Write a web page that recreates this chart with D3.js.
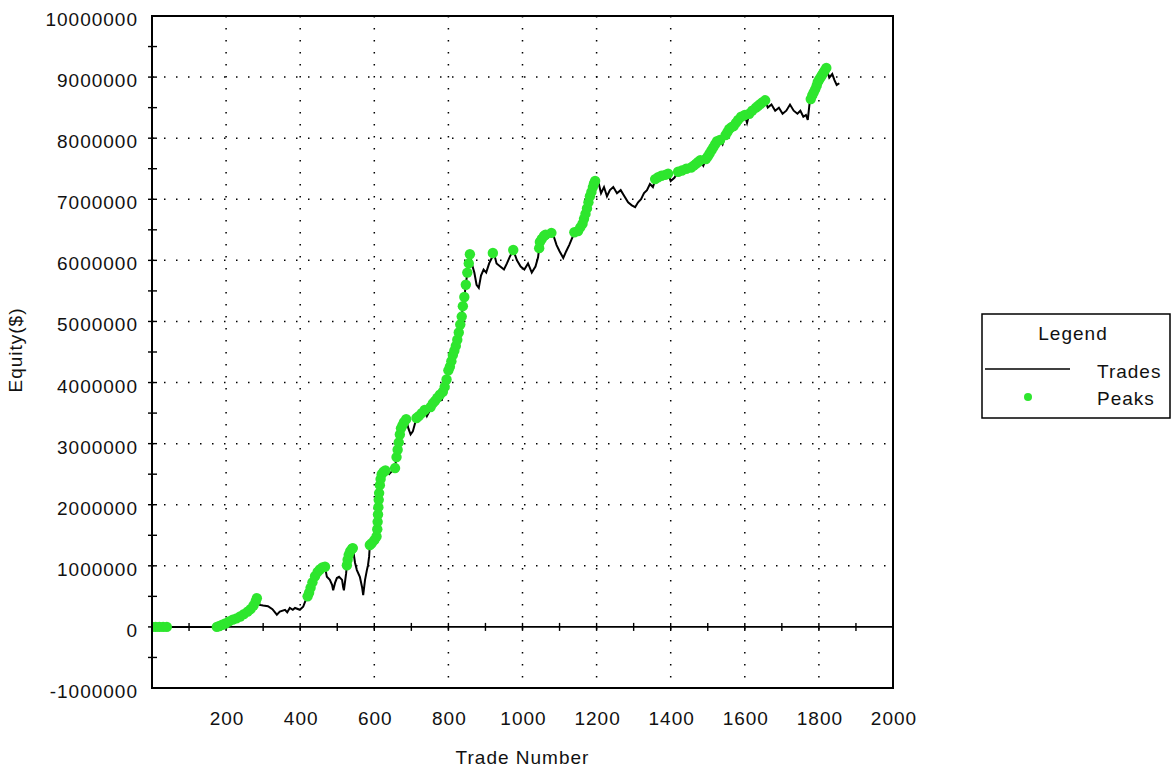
<!DOCTYPE html>
<html>
<head>
<meta charset="utf-8">
<script src="https://cdn.jsdelivr.net/npm/d3@7"></script>
<style>
  body { margin: 0; background: #fff; }
  text { font-family: "Liberation Sans", Arial, sans-serif; fill: #111; }
</style>
</head>
<body>
<div id="my_dataviz"></div>
<script>
// equity curve: [trade number, equity in $1000]
var trades = [
  [0,0],[45,0],[170,0],[185,30],[200,60],[215,110],[230,150],[245,200],[260,260],[272,330],[283,470],
  [291,360],[300,350],[313,340],[325,290],[337,200],[345,250],[359,280],[365,240],[372,310],[380,280],[386,310],[399,280],[408,330],[413,410],
  [418,470],[426,600],[435,770],[445,880],[459,970],[467,980],
  [472,820],[480,770],[486,690],[489,600],[494,720],[499,800],[505,820],[513,770],[516,650],[518,600],[524,880],
  [526,1010],[529,1150],[537,1260],[542,1290],
  [548,1050],[553,930],[561,820],[567,650],[570,520],[575,770],[580,930],[583,1010],[586,1150],
  [588,1340],[596,1390],[607,1500],[609,1720],[611,1960],[613,2190],[616,2400],[622,2530],[630,2560],[640,2500],[648,2550],[656,2600],
  [660,2800],[665,3000],[672,3250],[680,3350],[686,3400],[692,3250],[698,3150],[704,3200],[712,3380],[720,3450],[728,3500],[736,3550],
  [742,3450],[748,3520],[755,3650],[764,3700],[770,3750],[777,3800],[782,3700],[788,3900],[795,4050],[800,4200],[806,4300],[812,4450],
  [818,4550],[824,4700],[830,4900],[835,5050],[839,5250],[843,5400],[847,5600],[851,5800],[855,5950],[858,6100],
  [863,5950],[870,5800],[876,5600],[882,5550],[888,5750],[895,5850],[902,5800],[910,5950],[918,6050],[922,6140],[930,5950],[940,5900],
  [950,5850],[958,5950],[965,6050],[975,6170],[985,6000],[995,5900],[1005,5850],[1015,5950],[1025,5800],[1035,5900],[1042,6050],
  [1047,6300],[1055,6380],[1062,6420],[1070,6380],[1078,6450],[1085,6380],
  [1092,6250],[1100,6150],[1110,6040],[1118,6150],[1126,6250],[1133,6350],[1140,6450],[1150,6480],[1158,6550],[1165,6650],[1172,6800],
  [1180,7000],[1188,7150],[1196,7300],[1205,7280],
  [1212,7100],[1220,7200],[1228,7050],[1236,7150],[1245,7200],[1255,7100],[1265,7150],[1275,7050],[1285,6950],[1295,6900],[1304,6870],
  [1312,6950],[1320,7000],[1328,7100],[1336,7150],[1344,7250],[1352,7200],[1360,7350],[1372,7380],[1385,7400],[1393,7420],[1400,7300],
  [1410,7350],[1420,7450],[1430,7470],[1442,7500],[1455,7520],[1468,7580],[1480,7640],[1488,7550],[1495,7650],[1505,7750],[1515,7850],
  [1525,7950],[1533,7970],[1540,7900],[1548,8050],[1558,8150],[1570,8200],[1582,8300],[1590,8350],[1600,8380],[1606,8250],[1612,8400],
  [1620,8450],[1630,8500],[1642,8560],[1655,8620],
  [1662,8500],[1672,8550],[1682,8450],[1692,8500],[1702,8400],[1712,8450],[1722,8550],[1732,8450],[1742,8400],[1750,8450],[1758,8350],
  [1765,8380],[1770,8300],
  [1775,8580],[1782,8700],[1790,8800],[1797,8920],[1805,9000],[1812,9070],[1820,9150],[1828,8990],[1836,9050],[1842,8950],[1848,8870],[1855,8900]
];

// new equity highs: [trade number, equity in $1000]
var peaks = [
  [0,0],[10,0],[20,0],[30,0],[40,0],
  [175,0],[182,15],[190,35],[198,55],[208,90],[218,120],[228,140],[238,170],[248,210],[258,250],[266,290],[274,350],[280,420],[283,470],
  [420,500],[424,560],[428,640],[433,730],[440,830],[447,900],[453,940],[460,975],[467,985],
  [526,1010],[528,1100],[531,1180],[535,1240],[540,1280],[542,1290],
  [588,1340],[593,1370],[600,1420],[606,1480],[608,1600],[609,1720],[610,1840],[611,1960],[612,2080],[613,2190],[615,2320],[617,2420],
  [620,2500],[625,2540],[630,2560],[656,2600],[660,2780],[663,2900],[666,3020],[669,3150],[672,3250],[676,3300],[680,3350],[686,3400],
  [714,3420],[720,3450],[728,3500],[736,3550],[752,3600],[758,3660],[764,3700],[770,3750],[777,3800],[785,3850],[790,3930],[795,4050],
  [800,4200],[804,4260],[808,4350],[812,4450],[816,4520],[820,4600],[824,4700],[828,4820],[832,4950],[836,5080],[839,5250],[843,5400],
  [847,5600],[851,5800],[855,5950],[858,6100],
  [920,6120],[975,6170],
  [1045,6200],[1047,6300],[1052,6350],[1058,6400],[1062,6420],[1078,6450],
  [1140,6460],[1150,6480],[1156,6540],[1162,6600],[1166,6680],[1170,6760],[1174,6850],[1178,6950],[1182,7050],[1186,7120],[1190,7200],
  [1193,7260],[1196,7300],
  [1358,7330],[1366,7360],[1375,7385],[1385,7400],[1393,7420],[1420,7450],[1430,7470],[1442,7500],[1455,7520],[1462,7550],[1468,7580],
  [1474,7610],[1480,7640],[1495,7660],[1500,7700],[1505,7750],[1510,7800],[1515,7850],[1520,7900],[1525,7950],[1533,7970],[1548,8050],
  [1553,8100],[1558,8150],[1564,8180],[1570,8200],[1576,8250],[1582,8300],[1590,8350],[1600,8380],[1612,8400],[1620,8450],[1630,8500],
  [1636,8530],[1642,8560],[1648,8590],[1655,8620],
  [1778,8640],[1782,8700],[1786,8750],[1790,8800],[1794,8860],[1797,8920],[1801,8960],[1805,9000],[1808,9030],[1812,9070],[1816,9110],
  [1820,9150]
];

var xLabels = [200, 400, 600, 800, 1000, 1200, 1400, 1600, 1800, 2000];
var yLabels = [-1000000, 0, 1000000, 2000000, 3000000, 4000000, 5000000, 6000000, 7000000, 8000000, 9000000, 10000000];
var legendItems = ["Trades", "Peaks"];

// set the dimensions and margins of the graph
var margin = {top: 16, right: 282, bottom: 85, left: 152},
    width = 1175 - margin.left - margin.right,
    height = 773 - margin.top - margin.bottom;

var svgRoot = d3.select("#my_dataviz")
    .append("svg")
    .attr("width", 1175)
    .attr("height", 773);

svgRoot.append("rect").attr("width", 1175).attr("height", 773).attr("fill", "#fff");

var svg = svgRoot.append("g")
    .attr("transform", "translate(" + margin.left + "," + margin.top + ")");

var x = d3.scaleLinear().domain([0, 2000]).range([0, width]);
var y = d3.scaleLinear().domain([-1000000, 10000000]).range([height, 0]);

// dotted grid
var dots = "1.5,10.5";
svg.append("g").selectAll("line")
    .data(xLabels.filter(function(d) { return d < 2000; }))
    .enter().append("line")
    .attr("x1", function(d) { return x(d); })
    .attr("x2", function(d) { return x(d); })
    .attr("y1", 0).attr("y2", height)
    .attr("stroke", "#000").attr("stroke-width", 1.5)
    .attr("stroke-dasharray", dots);

svg.append("g").selectAll("line")
    .data(yLabels.filter(function(d) { return d > 0 && d < 10000000; }))
    .enter().append("line")
    .attr("x1", 0).attr("x2", width)
    .attr("y1", function(d) { return y(d); })
    .attr("y2", function(d) { return y(d); })
    .attr("stroke", "#000").attr("stroke-width", 1.5)
    .attr("stroke-dasharray", dots);

// x axis through zero, ticks crossing the line
var xTicks = d3.range(100, 2000, 100);
var xAxisG = svg.append("g").attr("transform", "translate(0," + y(0) + ")");
xAxisG.append("line").attr("x1", 0).attr("x2", width)
    .attr("stroke", "#000").attr("stroke-width", 1.6);
xAxisG.selectAll(".xt").data(xTicks).enter().append("line")
    .attr("class", "xt")
    .attr("x1", function(d) { return x(d); }).attr("x2", function(d) { return x(d); })
    .attr("y1", -4).attr("y2", 4)
    .attr("stroke", "#000").attr("stroke-width", 1.4);

// y axis ticks every 500000
var yTicks = d3.range(-500000, 10000000, 500000);
svg.append("g").selectAll("line").data(yTicks).enter().append("line")
    .attr("x1", -4).attr("x2", 5)
    .attr("y1", function(d) { return y(d); }).attr("y2", function(d) { return y(d); })
    .attr("stroke", "#000").attr("stroke-width", 1.4);

// tick labels (plain hyphen for the negative one)
svg.append("g").selectAll("text").data(yLabels).enter().append("text")
    .attr("x", -14)
    .attr("y", function(d) { return y(d) + 10; })
    .attr("text-anchor", "end")
    .style("font-size", "19px")
    .style("letter-spacing", "1px")
    .text(function(d) { return String(d); });

svg.append("g").selectAll("text").data(xLabels).enter().append("text")
    .attr("x", function(d) { return x(d) + 1; })
    .attr("y", 709)
    .attr("text-anchor", "middle")
    .style("font-size", "19px")
    .style("letter-spacing", "1px")
    .text(function(d) { return d; });

// axis titles
svg.append("text")
    .attr("x", width / 2)
    .attr("y", 748)
    .attr("text-anchor", "middle")
    .style("font-size", "19px")
    .style("letter-spacing", "1px")
    .text("Trade Number");

svg.append("text")
    .attr("transform", "translate(" + (22 - margin.left) + "," + (350 - margin.top) + ") rotate(-90)")
    .attr("text-anchor", "middle")
    .style("font-size", "19px")
    .style("letter-spacing", "1px")
    .text("Equity($)");

// clip for the data
svg.append("clipPath").attr("id", "plotclip")
    .append("rect").attr("width", width).attr("height", height);

var plot = svg.append("g").attr("clip-path", "url(#plotclip)");

var line = d3.line()
    .x(function(d) { return x(d[0]); })
    .y(function(d) { return y(d[1] * 1000); });

plot.append("path")
    .datum(trades)
    .attr("fill", "none")
    .attr("stroke", "#000")
    .attr("stroke-width", 2)
    .attr("d", line);

plot.append("g").selectAll("circle")
    .data(peaks)
    .enter().append("circle")
    .attr("cx", function(d) { return x(d[0]); })
    .attr("cy", function(d) { return y(d[1] * 1000); })
    .attr("r", 5.2)
    .attr("fill", "#2ee62e");

// frame
svg.append("rect")
    .attr("width", width).attr("height", height)
    .attr("fill", "none").attr("stroke", "#000").attr("stroke-width", 2);

// legend
var lg = svgRoot.append("g").attr("transform", "translate(982,314)");
lg.append("rect").attr("width", 188).attr("height", 104)
    .attr("fill", "#fff").attr("stroke", "#000").attr("stroke-width", 1.5);
lg.append("text").attr("x", 91).attr("y", 26).attr("text-anchor", "middle")
    .style("font-size", "19px").style("letter-spacing", "1px").text("Legend");
lg.append("line").attr("x1", 3).attr("x2", 88).attr("y1", 55).attr("y2", 55)
    .attr("stroke", "#000").attr("stroke-width", 1.5);
lg.append("circle").attr("cx", 46).attr("cy", 83).attr("r", 4).attr("fill", "#2ee62e");
lg.selectAll(".lt").data(legendItems).enter().append("text")
    .attr("class", "lt")
    .attr("x", 115)
    .attr("y", function(d, i) { return 64 + i * 27; })
    .style("font-size", "19px").style("letter-spacing", "1px")
    .text(function(d) { return d; });
</script>
</body>
</html>
